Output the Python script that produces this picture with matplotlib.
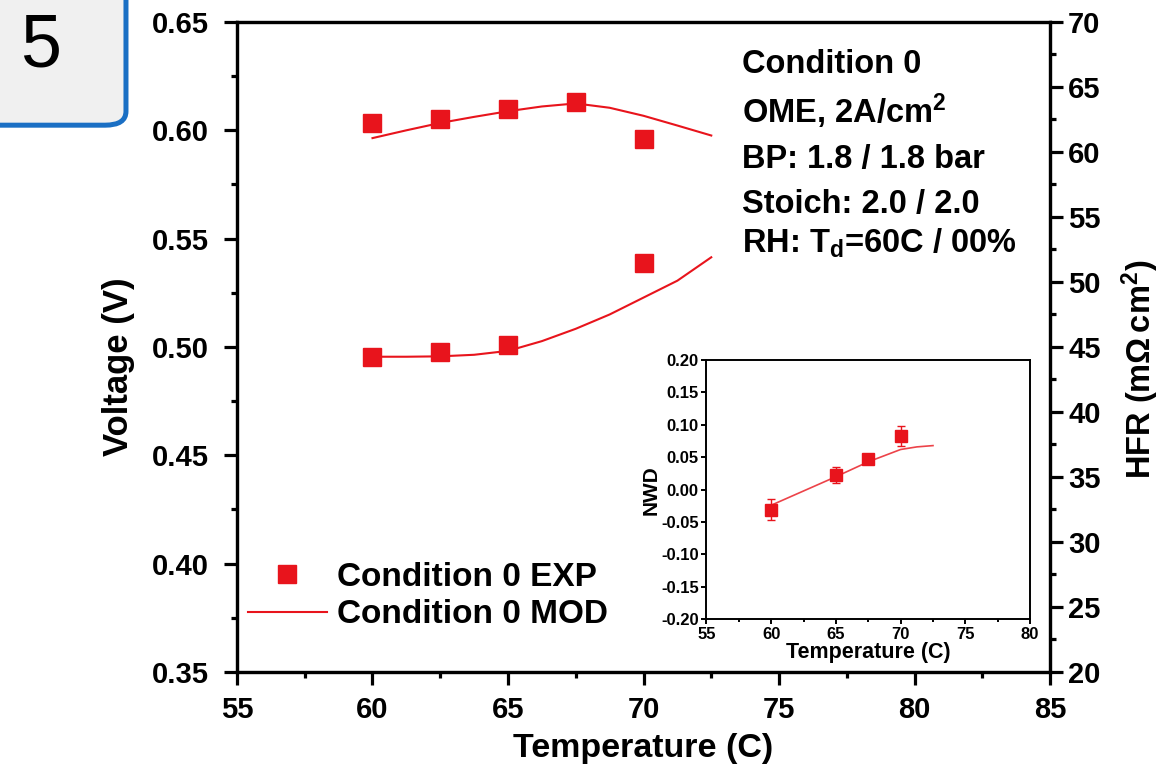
import matplotlib
matplotlib.use("Agg")
import numpy as np
from matplotlib import pyplot as plt
from matplotlib.patches import FancyBboxPatch
from matplotlib.ticker import MultipleLocator, FormatStrFormatter

plt.rcParams['font.family'] = ['Liberation Sans', 'DejaVu Sans']
plt.rcParams['font.weight'] = 'bold'
plt.rcParams['mathtext.fontset'] = 'custom'
plt.rcParams['mathtext.rm'] = 'Liberation Sans:bold'
plt.rcParams['mathtext.bf'] = 'Liberation Sans:bold'
plt.rcParams['mathtext.it'] = 'Liberation Sans:bold'
plt.rcParams['mathtext.default'] = 'rm'

RED = '#e8141c'

# main panel: voltage (left axis) and HFR (right axis)
temp_exp = [60, 62.5, 65, 67.5, 70]
volt_exp = [0.6032, 0.6051, 0.6097, 0.6131, 0.5959]
temp_mod = [60, 61.25, 62.5, 63.75, 65, 66.25, 67.5, 68.75, 70, 71.25, 72.5]
volt_mod = [0.5964, 0.6000, 0.6034, 0.6062, 0.6088, 0.6110, 0.6124, 0.6104,
            0.6067, 0.6022, 0.5976]

temp_hfr_exp = [60, 62.5, 65, 70]
hfr_exp = [44.25, 44.59, 45.15, 51.48]
hfr_mod = [44.25, 44.25, 44.28, 44.4, 44.7, 45.45, 46.4, 47.5, 48.8, 50.1, 51.9]

# inset: NWD
temp_nwd = [60, 65, 67.5, 70]
nwd_exp = [-0.031, 0.0226, 0.047, 0.083]
nwd_err = [0.0165, 0.013, 0.005, 0.016]
temp_nwd_mod = [60, 62.5, 65, 67.5, 70, 71.25, 72.5]
nwd_mod = [-0.024, -0.002, 0.020, 0.043, 0.062, 0.066, 0.068]

fig = plt.figure(figsize=(11.6, 7.68), dpi=100)
ax = fig.add_axes([0.2043, 0.125, 0.7009, 0.8464])
ax2 = ax.twinx()


def style_axis(a, lw=2.3, size=21, major=9.5, minor=4):
    for s in a.spines.values():
        s.set_linewidth(lw)
    a.tick_params(which='major', direction='out', length=major, width=lw, labelsize=size)
    a.tick_params(which='minor', direction='out', length=minor, width=lw)


ax.plot(temp_mod, volt_mod, color=RED, lw=1.5, label='Condition 0 MOD', zorder=3)
ax.plot(temp_exp, volt_exp, 's', color=RED, ms=13, label='Condition 0 EXP', zorder=4)
ax2.plot(temp_mod, hfr_mod, color=RED, lw=1.5)
ax2.plot(temp_hfr_exp, hfr_exp, 's', color=RED, ms=13)

ax.set_xlim(55, 85)
ax.set_ylim(0.35, 0.65)
ax2.set_ylim(20, 70)
ax.xaxis.set_major_locator(MultipleLocator(5))
ax.xaxis.set_minor_locator(MultipleLocator(2.5))
ax.yaxis.set_major_locator(MultipleLocator(0.05))
ax.yaxis.set_minor_locator(MultipleLocator(0.025))
ax2.yaxis.set_major_locator(MultipleLocator(5))
ax2.yaxis.set_minor_locator(MultipleLocator(2.5))
ax.yaxis.set_major_formatter(FormatStrFormatter('%.2f'))
style_axis(ax)
style_axis(ax2)
ax.tick_params(axis='y', which='major', pad=11)
ax.tick_params(axis='x', which='major', pad=8)
ax2.tick_params(axis='y', which='major', pad=3.5)

ax.set_xlabel('Temperature (C)', fontsize=24.5, fontweight='bold', labelpad=6)
ax.set_ylabel('Voltage (V)', fontsize=25, fontweight='bold')
ax.yaxis.set_label_coords(-0.1255, 0.47)
ax2.set_ylabel(r'HFR (m$\Omega\,$cm$^{2}$)', fontsize=23.5, fontweight='bold')
ax2.yaxis.set_label_coords(1.085, 0.465)

handles, labels = ax.get_legend_handles_labels()
ax.legend(handles[::-1], labels[::-1], loc='lower left', bbox_to_anchor=(0.0135, 0.064),
          frameon=False, fontsize=24, handlelength=2.37, handletextpad=0.3,
          labelspacing=0.2, markerscale=0.95, borderpad=0, borderaxespad=0)

info = ['Condition 0', r'OME, 2A/cm$^{2}$', 'BP: 1.8 / 1.8 bar',
        'Stoich: 2.0 / 2.0', r'RH: T$_{d}$=60C / 00%']
info_y = [0.921, 0.844, 0.775, 0.706, 0.645]
for line, yy in zip(info, info_y):
    ax.text(0.621, yy, line, transform=ax.transAxes,
            fontsize=23.5, fontweight='bold', va='baseline', ha='left')

# inset
axi = fig.add_axes([0.609, 0.1936, 0.279, 0.3376])
axi.errorbar(temp_nwd, nwd_exp, yerr=nwd_err, fmt='s', color=RED, ms=8,
             capsize=3, elinewidth=1, zorder=4)
axi.plot(temp_nwd_mod, nwd_mod, color=RED, lw=1.2, alpha=0.8)
axi.set_xlim(55, 80)
axi.set_ylim(-0.20, 0.20)
axi.xaxis.set_major_locator(MultipleLocator(5))
axi.xaxis.set_minor_locator(MultipleLocator(2.5))
axi.yaxis.set_major_locator(MultipleLocator(0.05))
axi.yaxis.set_major_formatter(FormatStrFormatter('%.2f'))
style_axis(axi, lw=1.4, size=12, major=3.5, minor=2)
axi.tick_params(which='major', pad=2)
axi.set_xlabel('Temperature (C)', fontsize=15.5, fontweight='bold', labelpad=0)
axi.set_ylabel('NWD', fontsize=15, fontweight='bold', labelpad=0)

# panel number box
box = FancyBboxPatch((-0.05, 0.837), 0.1586, 0.22, transform=fig.transFigure,
                     boxstyle='round,pad=0,rounding_size=0.018',
                     facecolor='#f0f0f0', edgecolor='#1a6fc4', lw=3.6, clip_on=False)
fig.patches.append(box)
fig.text(0.035, 0.939, '5', fontsize=53, fontweight='normal', ha='center', va='center')

fig.savefig('out.png', dpi=100)
